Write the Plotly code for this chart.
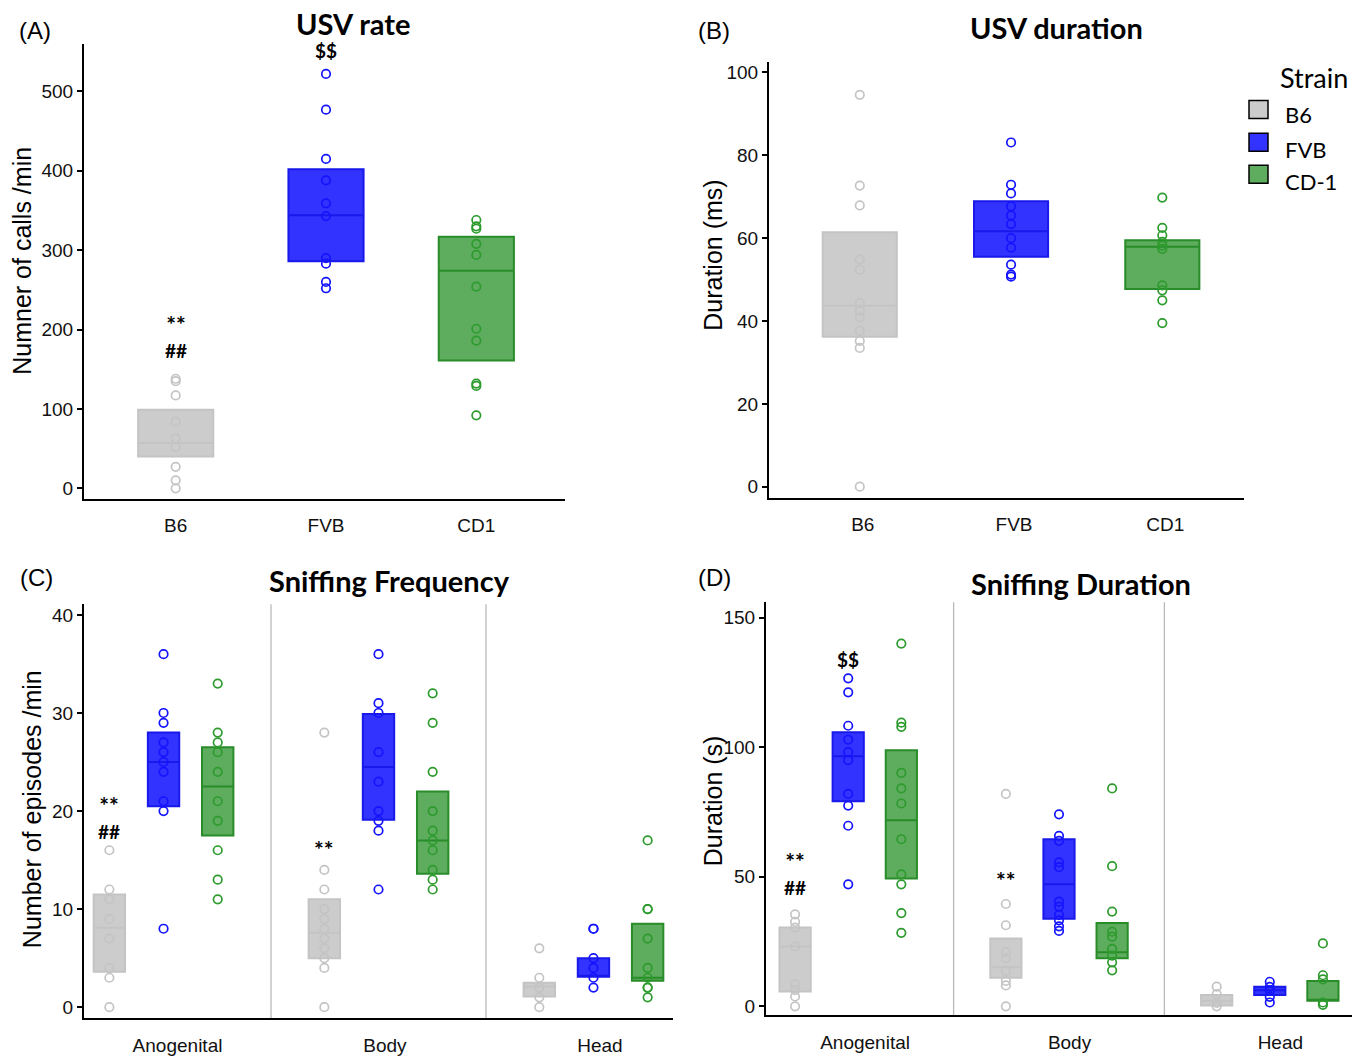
import plotly.graph_objects as go

W, H = 1362, 1056

strains = ["B6", "FVB", "CD1"]
legend_labels = ["B6", "FVB", "CD-1"]
regions = ["Anogenital", "Body", "Head"]

# ---------------- Panel A: USV rate (calls/min) ----------------
rate_b6 = [138, 135, 117, 84, 63, 52, 27, 10, 0]
rate_fvb = [522, 477, 415, 388, 359, 343, 290, 283, 260, 252]
rate_cd1 = [338, 330, 327, 308, 294, 254, 201, 186, 132, 129, 92]
# (q1, median, q3)
rate_box_b6 = (40, 57, 99)
rate_box_fvb = (286, 344, 402)
rate_box_cd1 = (161, 274, 317)

# ---------------- Panel B: USV duration (ms) ----------------
dur_b6 = [94.6, 72.7, 67.9, 54.9, 52.4, 44.3, 42.5, 40.9, 37.6, 35.2, 33.5, 0]
dur_fvb = [83.1, 72.9, 70.8, 67.7, 65.5, 63.4, 60.0, 57.7, 53.6, 51.2, 50.7]
dur_cd1 = [69.8, 62.5, 60.7, 59.1, 58.2, 57.4, 48.6, 47.4, 45.0, 39.5]
dur_box_b6 = (36.2, 43.7, 61.4)
dur_box_fvb = (55.5, 61.7, 68.9)
dur_box_cd1 = (47.7, 57.9, 59.5)

# ---------------- Panel C: Sniffing frequency (episodes/min) ----------------
# lists per region: Anogenital, Body, Head
freq_b6 = [[16, 12, 11, 9, 7, 4, 3, 0],
           [28, 14, 12, 10, 9, 8, 7, 6, 5, 4, 0],
           [6, 3, 2, 1, 0]]
freq_fvb = [[36, 30, 29, 27, 26, 25, 24, 21, 20, 8],
            [36, 31, 30, 26, 23, 20, 19, 18, 12],
            [8, 8, 5, 4, 3, 2]]
freq_cd1 = [[33, 28, 27, 26, 24, 21, 19, 16, 13, 11],
            [32, 29, 24, 20, 18, 17, 16, 14, 13, 12],
            [17, 10, 10, 7, 4, 3, 2, 2, 1]]
freq_box_b6 = [(3.6, 8.1, 11.5), (5.0, 7.6, 11.0), (1.1, 2.1, 2.5)]
freq_box_fvb = [(20.5, 25.0, 28.0), (19.1, 24.5, 29.9), (3.1, 3.2, 5.0)]
freq_box_cd1 = [(17.5, 22.5, 26.5), (13.6, 17.0, 22.0), (2.7, 3.0, 8.5)]

# ---------------- Panel D: Sniffing duration (s) ----------------
sdur_b6 = [[35.5, 32.6, 30.4, 23.1, 8.5, 6.3, 3.8, 0],
           [82, 39.5, 31.3, 20.9, 18.6, 13.6, 9.8, 8.1, 0],
           [7.6, 4.7, 1.3, 0]]
sdur_fvb = [[126.6, 121.2, 108.3, 102.9, 98.1, 95.0, 82.0, 77.5, 69.7, 47.1],
            [74.1, 65.8, 63.9, 55.6, 53.7, 40.4, 38.5, 35.3, 33.2, 30.9, 29.1],
            [9.5, 7.5, 6.0, 3.7, 1.5]]
sdur_cd1 = [[140, 109.5, 107.9, 90.1, 84.1, 78.3, 64.5, 50.9, 47.1, 36, 28.4],
            [84.1, 54.1, 36.6, 28.8, 26.9, 22.2, 19.6, 17.0, 13.9],
            [24.3, 12.0, 10.4, 1.5, 0.6]]
sdur_box_b6 = [(5.7, 23.1, 30.4), (11.0, 15.1, 26.2), (0.3, 2.2, 4.4)]
sdur_box_fvb = [(79.2, 96.5, 105.8), (33.8, 47.1, 64.5), (4.4, 6.2, 7.6)]
sdur_box_cd1 = [(49.3, 71.8, 98.8), (18.6, 20.9, 32.2), (2.2, 2.5, 9.8)]

# ---------------- styles ----------------
fill = {"B6": "rgb(204,204,204)", "FVB": "rgb(51,51,255)", "CD1": "rgb(94,172,94)"}
edge = {"B6": "rgb(196,196,196)", "FVB": "rgb(25,25,235)", "CD1": "rgb(40,140,40)"}
ptc = {"B6": "rgb(196,196,196)", "FVB": "rgb(20,20,255)", "CD1": "rgb(45,155,45)"}

fig = go.Figure()


def add_group(xa, ya, pos, stats, pts, strain, width):
    q1, med, q3 = stats
    fig.add_trace(go.Box(
        x=[pos], q1=[q1], median=[med], q3=[q3], lowerfence=[q1], upperfence=[q3],
        width=width, whiskerwidth=0, fillcolor=fill[strain],
        line=dict(color=edge[strain], width=2), boxpoints=False,
        xaxis=xa, yaxis=ya, showlegend=False, hoverinfo="skip"))
    fig.add_trace(go.Scatter(
        x=[pos] * len(pts), y=pts, mode="markers",
        marker=dict(symbol="circle-open", size=8.5, color=ptc[strain],
                    line=dict(width=1.7, color=ptc[strain])),
        xaxis=xa, yaxis=ya, showlegend=False, hoverinfo="skip"))


# Panel A and B
panelA = [(rate_box_b6, rate_b6), (rate_box_fvb, rate_fvb), (rate_box_cd1, rate_cd1)]
panelB = [(dur_box_b6, dur_b6), (dur_box_fvb, dur_fvb), (dur_box_cd1, dur_cd1)]
for i, s in enumerate(strains):
    add_group("x", "y", i, panelA[i][0], panelA[i][1], s, 0.5)
    add_group("x2", "y2", i, panelB[i][0], panelB[i][1], s, 0.49)

# Panel C and D
offsets = {"B6": -0.252, "FVB": 0.0, "CD1": 0.252}
panelC = {"B6": (freq_box_b6, freq_b6), "FVB": (freq_box_fvb, freq_fvb), "CD1": (freq_box_cd1, freq_cd1)}
panelD = {"B6": (sdur_box_b6, sdur_b6), "FVB": (sdur_box_fvb, sdur_fvb), "CD1": (sdur_box_cd1, sdur_cd1)}
for r in range(len(regions)):
    for s in strains:
        add_group("x3", "y3", r + offsets[s], panelC[s][0][r], panelC[s][1][r], s, 0.146)
        add_group("x4", "y4", r + offsets[s], panelD[s][0][r], panelD[s][1][r], s, 0.148)


def dx(p0, p1):
    return [p0 / W, p1 / W]


def dy(top, bottom):
    return [1 - bottom / H, 1 - top / H]


tickfont = dict(family="Liberation Sans, Arial, sans-serif", size=19, color="#111")
ax_common = dict(showline=True, linecolor="black", linewidth=2, showgrid=False,
                 zeroline=False, tickfont=tickfont)
yax_common = dict(ax_common, ticks="outside", ticklen=5, tickwidth=1.5, tickcolor="black")
xax_common = dict(ax_common, ticks="outside", ticklen=9, tickcolor="rgba(0,0,0,0)")

fig.update_layout(
    width=W, height=H, autosize=False,
    margin=dict(l=0, r=0, t=0, b=0),
    paper_bgcolor="white", plot_bgcolor="white",
    boxmode="overlay",
    xaxis=dict(xax_common, domain=dx(84, 565), range=[-0.61, 2.59],
               tickvals=[0, 1, 2], ticktext=strains, anchor="y"),
    yaxis=dict(yax_common, domain=dy(44, 501), range=[-13, 560],
               tickvals=[0, 100, 200, 300, 400, 500], anchor="x"),
    xaxis2=dict(xax_common, domain=dx(769, 1244), range=[-0.6, 2.54],
                tickvals=[0.02, 1.02, 2.02], ticktext=strains, anchor="y2"),
    yaxis2=dict(yax_common, domain=dy(62, 500), range=[-2.64, 102.6],
                tickvals=[0, 20, 40, 60, 80, 100], anchor="x2"),
    xaxis3=dict(xax_common, domain=dx(84, 673), range=[-0.37, 2.37],
                tickvals=[0.065, 1.03, 2.03], ticktext=regions, anchor="y3"),
    yaxis3=dict(yax_common, domain=dy(607, 1023), range=[-1.12, 41.1],
                tickvals=[0, 10, 20, 30, 40], anchor="x3"),
    xaxis4=dict(xax_common, domain=dx(766, 1352), range=[-0.39, 2.39],
                tickvals=[0.08, 1.05, 2.05], ticktext=regions, anchor="y4"),
    yaxis4=dict(yax_common, domain=dy(605, 1020), range=[-3.4, 156],
                tickvals=[0, 50, 100, 150], anchor="x4"),
)

# separators between regions in C and D
for xa, ya in (("x3", "y3"), ("x4", "y4")):
    for xv in (0.5, 1.5):
        fig.add_shape(type="line", x0=xv, x1=xv, y0=0, y1=1, xref=xa, yref=ya + " domain",
                      line=dict(color="rgb(185,185,185)", width=1.3), layer="below")

ann = []
title_font = dict(family="Lato, Open Sans, sans-serif", size=29, color="black")
for text, px, py in (("<b>USV rate</b>", 353, 24), ("<b>USV duration</b>", 1056, 28),
                     ("<b>Sniffing Frequency</b>", 389, 583), ("<b>Sniffing Duration</b>", 1081, 586)):
    ann.append(dict(text=text, x=px / W, y=1 - py / H, xref="paper", yref="paper",
                    showarrow=False, font=title_font, xanchor="center", yanchor="middle"))

letter_font = dict(family="Liberation Sans, Arial, sans-serif", size=24, color="black")
for text, px, py in (("(A)", 35, 31), ("(B)", 714, 31), ("(C)", 36, 580), ("(D)", 714, 580)):
    ann.append(dict(text=text, x=px / W, y=1 - py / H, xref="paper", yref="paper",
                    showarrow=False, font=letter_font, xanchor="center", yanchor="middle"))

ytitle_font = dict(family="Liberation Sans, Arial, sans-serif", size=25, color="black")
for text, px, py in (("Numner of calls /min", 22, 262), ("Duration (ms)", 713, 257),
                     ("Number of episodes /min", 32, 813), ("Duration (s)", 713, 805)):
    ann.append(dict(text=text, x=px / W, y=1 - py / H, xref="paper", yref="paper",
                    showarrow=False, font=ytitle_font, textangle=-90,
                    xanchor="center", yanchor="middle"))

# significance marks
sig_font = dict(family="Lato, Open Sans, sans-serif", size=19, color="black")
star_font = dict(family="Lato, Open Sans, sans-serif", size=23, color="black")
stacked = "<b><span style='font-size:23px'>**</span><br>##</b>"
sig_marks = [
    ("x", "y", 0, 192, stacked, sig_font), ("x", "y", 1, 551, "<b>$$</b>", sig_font),
    ("x3", "y3", offsets["B6"], 19.4, stacked, sig_font),
    ("x3", "y3", 1 + offsets["B6"], 16.1, "<b>**</b>", star_font),
    ("x4", "y4", offsets["B6"], 51.6, stacked, sig_font),
    ("x4", "y4", 0, 133.7, "<b>$$</b>", sig_font),
    ("x4", "y4", 1 + offsets["B6"], 48.7, "<b>**</b>", star_font),
]
for xa, ya, xv, yv, t, f in sig_marks:
    ann.append(dict(text=t, x=xv, y=yv, xref=xa, yref=ya, showarrow=False, font=f,
                    xanchor="center", yanchor="middle"))

# legend (manual)
ann.append(dict(text="Strain", x=1314 / W, y=1 - 78 / H, xref="paper", yref="paper",
                showarrow=False, font=dict(family="Lato, Open Sans, sans-serif", size=27, color="black"),
                xanchor="center", yanchor="middle"))
sw_centers = [110, 143, 175]
txt_centers = [115, 150, 182]
for s, lab, cy, ty in zip(strains, legend_labels, sw_centers, txt_centers):
    fig.add_shape(type="rect", xref="paper", yref="paper",
                  x0=1249 / W, x1=1268 / W, y0=1 - (cy + 9) / H, y1=1 - (cy - 9) / H,
                  fillcolor=fill[s], line=dict(color="black", width=1.5))
    ann.append(dict(text=lab, x=1283 / W, y=1 - ty / H, xref="paper", yref="paper",
                    showarrow=False, font=dict(family="Lato, Open Sans, sans-serif", size=22, color="black"),
                    xanchor="left", yanchor="middle"))

fig.update_layout(annotations=ann)
fig.write_html(
    "out.html",
    config={"displayModeBar": False},
    post_script="document.body.style.margin='0';document.body.style.padding='0';"
                "document.body.style.overflow='hidden';",
)
